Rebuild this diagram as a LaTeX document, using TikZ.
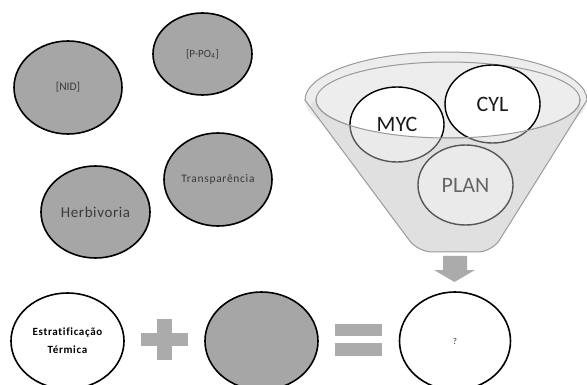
\documentclass[tikz,border=0pt]{standalone}
\usepackage{fontspec}
\setmainfont{Carlito}
\usetikzlibrary{shapes.geometric}
\definecolor{fillgrey}{HTML}{A6A6A6}
\definecolor{signgrey}{HTML}{ABABAB}
\definecolor{funnelfill}{HTML}{EDEDED}
\definecolor{frontfill}{HTML}{CFCFCF}
\definecolor{funnelline}{HTML}{9A9A9A}
\definecolor{txtgrey}{HTML}{3A3A3A}
\begin{document}
\begin{tikzpicture}[x=1pt,y=-1pt,
  bubble/.style={ellipse, draw=black, line width=1.6pt, fill=fillgrey, inner sep=0pt, text=txtgrey},
  whitebubble/.style={ellipse, draw=black, line width=1.6pt, fill=white, inner sep=0pt, text=black},
  fcircle/.style={ellipse, draw=black, line width=1.4pt, fill=white, inner sep=0pt, text=black!90, font=\fontsize{22}{24}\selectfont},
  sign/.style={fill=signgrey, draw=none}]
\useasboundingbox (0,0) rectangle (587,385);
\fill[white] (0,0) rectangle (587,385);

% top-left grey ellipses
\node[bubble, minimum width=108pt, minimum height=93pt, font=\fontsize{11.5}{13}\selectfont] (nid) at (68,87.5) {[NID]};
\node[bubble, minimum width=99pt, minimum height=82pt, font=\fontsize{11}{12}\selectfont] (ppo) at (202.5,54) {[P-PO\textsubscript{4}]};
\node[bubble, minimum width=108pt, minimum height=93pt, font=\fontsize{11.5}{13}\selectfont\addfontfeature{LetterSpace=6}] (transp) at (218,179.5) {Transparência};
\node[bubble, minimum width=109pt, minimum height=92pt, font=\fontsize{15}{17}\selectfont\addfontfeature{LetterSpace=4}] (herb) at (95.5,212) {Herbivoria};

% funnel back
\fill[funnelfill, rounded corners=14pt] (305,100) -- (418,252) -- (492,252) -- (587,100) -- cycle;
\fill[funnelfill] (446,100) ellipse [x radius=141pt, y radius=48pt];
\begin{scope}
  \clip (290,40) rectangle (600,101);
  \draw[funnelline, line width=1pt] (446,100) ellipse [x radius=141pt, y radius=48pt];
\end{scope}
\draw[funnelline, line width=1pt] (448,100) ellipse [x radius=132pt, y radius=38pt];

% circles in the funnel
\node[fcircle, minimum width=94pt, minimum height=75pt] (myc) at (397,124.5) {MYC};
\node[fcircle, minimum width=95pt, minimum height=78pt] (cyl) at (492.5,104) {CYL};
\node[fcircle, minimum width=95pt, minimum height=80pt] (plan) at (465.5,185) {PLAN};

% funnel front (semi-transparent)
\begin{scope}
  \clip[rounded corners=14pt] (305,100) -- (418,252) -- (492,252) -- (587,100) -- cycle;
  \clip (290,100) rectangle (600,270);
  \fill[frontfill, fill opacity=0.42, even odd rule] (290,100) rectangle (600,270) (448,100) ellipse [x radius=132pt, y radius=38pt];
\end{scope}
\begin{scope}
  \clip (290,99) rectangle (600,150);
  \draw[funnelline, line width=1pt] (448,100) ellipse [x radius=132pt, y radius=38pt];
\end{scope}
\draw[funnelline, line width=1pt, rounded corners=14pt] (305,100) -- (418,252) -- (492,252) -- (587,100);

% down arrow
\fill[sign] (443,256) -- (467,256) -- (467,270) -- (475,270) -- (454.5,282) -- (434,270) -- (443,270) -- cycle;

% bottom row
\node[whitebubble, minimum width=113pt, minimum height=96pt, align=center, font=\bfseries\fontsize{11}{18}\selectfont\addfontfeature{LetterSpace=6,Ligatures=NoCommon}] (estr) at (67.5,341) {Estratificação\\Térmica};
\fill[sign] (157,319) rectangle (172,360);
\fill[sign] (141,333) rectangle (188,346);
\node[bubble, minimum width=113pt, minimum height=98pt] (grey) at (261.5,341) {};
\fill[sign] (335,324) rectangle (382,336);
\fill[sign] (335,343) rectangle (382,356);
\node[whitebubble, minimum width=111pt, minimum height=98pt, font=\fontsize{9}{10}\selectfont, text=txtgrey] (res) at (455,341) {?};
\end{tikzpicture}
\end{document}
